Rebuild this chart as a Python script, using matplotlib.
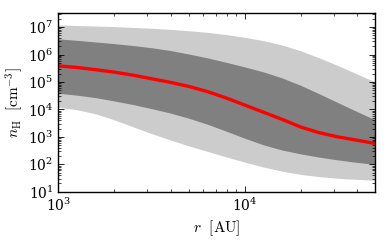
import numpy as np
import matplotlib
matplotlib.use("Agg")
import matplotlib.pyplot as plt
from matplotlib.ticker import LogLocator

plt.rcParams.update({"mathtext.fontset": "cm", "font.family": "serif",
                     "font.size": 9})

# log10 of radius [AU] and log10 of density [cm^-3]
log_r = [3.0, 3.1, 3.2, 3.3, 3.4, 3.5, 3.6, 3.7, 3.8, 3.9,
         4.0, 4.1, 4.2, 4.3, 4.4, 4.5, 4.6, 4.7]
outer_hi = [7.08, 7.06, 7.04, 7.02, 6.99, 6.96, 6.92, 6.87, 6.81, 6.73,
            6.63, 6.51, 6.35, 6.14, 5.88, 5.60, 5.30, 5.00]
inner_hi = [6.57, 6.52, 6.46, 6.40, 6.33, 6.25, 6.15, 6.02, 5.88, 5.72,
            5.55, 5.37, 5.15, 4.88, 4.57, 4.25, 3.93, 3.62]
median = [5.59, 5.53, 5.45, 5.36, 5.25, 5.12, 4.99, 4.84, 4.65, 4.42,
          4.16, 3.90, 3.64, 3.36, 3.15, 3.00, 2.88, 2.76]
inner_lo = [4.59, 4.52, 4.43, 4.31, 4.18, 4.03, 3.87, 3.68, 3.46, 3.21,
            2.95, 2.71, 2.52, 2.38, 2.26, 2.16, 2.07, 2.00]
outer_lo = [4.08, 3.99, 3.84, 3.62, 3.37, 3.12, 2.89, 2.67, 2.47, 2.27,
            2.08, 1.90, 1.75, 1.63, 1.55, 1.49, 1.45, 1.42]

r = 10 ** np.array(log_r)
p = lambda a: 10 ** np.array(a)

fig = plt.figure(figsize=(3.9, 2.44), dpi=100)
ax = fig.add_axes([0.1495, 0.2143, 0.812, 0.7312])
ax.fill_between(r, p(outer_lo), p(outer_hi), color="#cccccc", lw=0)
ax.fill_between(r, p(inner_lo), p(inner_hi), color="#808080", lw=0)
ax.plot(r, p(median), color="#ff0000", lw=2.4)

ax.set_xscale("log"); ax.set_yscale("log")
ax.set_xlim(1e3, 5e4); ax.set_ylim(1e1, 3.2e7)
ax.yaxis.set_major_locator(LogLocator(base=10, numticks=20))
ax.yaxis.set_minor_locator(LogLocator(base=10, subs=np.arange(2, 10), numticks=20))
ax.set_xlabel(r"$r\ \ [\mathrm{AU}]$", fontsize=11, labelpad=3)
ax.set_ylabel(r"$n_{\rm H}\ \ [\mathrm{cm}^{-3}]$", fontsize=11, labelpad=2)
ax.tick_params(which="both", direction="in", top=True, right=True)
ax.tick_params(which="major", length=4, width=0.6, labelsize=10)
ax.tick_params(which="minor", length=2, width=0.5)
for s in ax.spines.values():
    s.set_linewidth(1.0)

fig.savefig("out.png", dpi=100)
